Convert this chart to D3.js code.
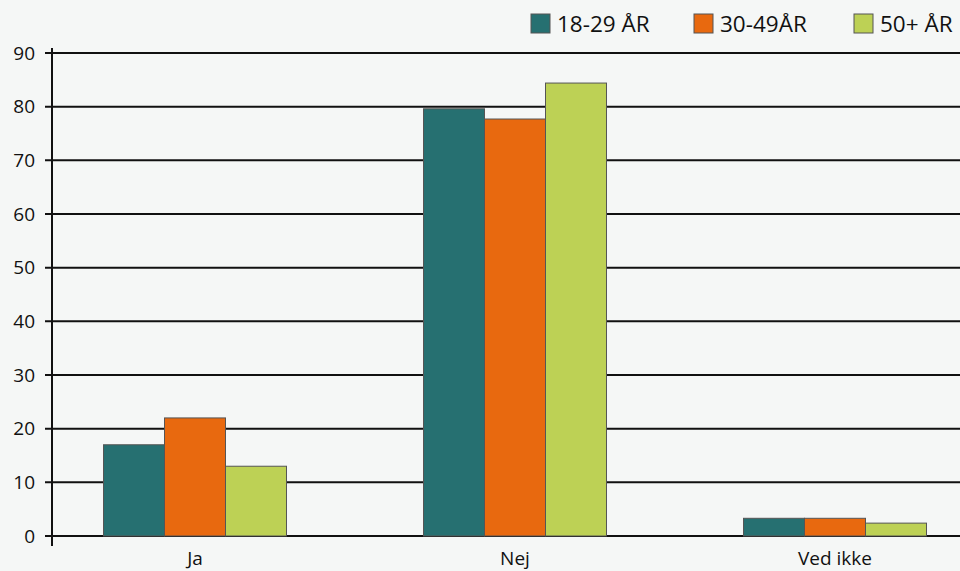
<!DOCTYPE html>
<html>
<head>
  <meta charset="utf-8">
  <title>Aldersgrupper</title>
  <style>
    body { margin: 0; background: #f5f7f6; }
    svg { display: block; font-family: "Open Sans", "Noto Sans", sans-serif; }
  </style>
  <script src="https://cdn.jsdelivr.net/npm/d3@7"></script>
</head>
<body>
<div id="chart"></div>
<script>
var categories = ['Ja', 'Nej', 'Ved ikke'];
var series = ['18-29 ÅR', '30-49ÅR', '50+ ÅR'];
var colors = ['#267071', '#e8690f', '#bdd155'];
var values = [
  [17.0, 79.6, 3.3],   // 18-29
  [22.0, 77.7, 3.3],   // 30-49
  [13.0, 84.4, 2.4]    // 50+
];
var yTicks = [0, 10, 20, 30, 40, 50, 60, 70, 80, 90];

var width = 960, height = 571;
var axisX = 52;

var svg = d3.select('#chart').append('svg')
  .attr('width', width)
  .attr('height', height);

svg.append('rect').attr('width', width).attr('height', height).attr('fill', '#f5f7f6');

var y = d3.scaleLinear().domain([0, 90]).range([536, 53]);
var x = d3.scaleBand().domain(categories).range([35, 995]).padding(0);
var groupW = 183;
var x1 = d3.scaleBand().domain(series).range([0, groupW]).padding(0);

// grid lines
svg.append('g').selectAll('line')
  .data(yTicks)
  .enter().append('line')
  .attr('x1', 45).attr('x2', width)
  .attr('y1', function (d) { return y(d); })
  .attr('y2', function (d) { return y(d); })
  .attr('stroke', '#111').attr('stroke-width', 2);

// y axis labels
svg.append('g').selectAll('text')
  .data(yTicks)
  .enter().append('text')
  .attr('x', 35)
  .attr('y', function (d) { return y(d); })
  .attr('dy', '0.35em')
  .attr('text-anchor', 'end')
  .attr('font-size', 19)
  .attr('fill', '#111')
  .text(function (d) { return d; });

// bars
var groups = svg.append('g').selectAll('g')
  .data(categories)
  .enter().append('g')
  .attr('transform', function (d) {
    return 'translate(' + (x(d) + (x.bandwidth() - groupW) / 2) + ',0)';
  });

groups.selectAll('rect')
  .data(function (d, i) {
    return series.map(function (s, j) { return { s: s, v: values[j][i], c: colors[j] }; });
  })
  .enter().append('rect')
  .attr('x', function (d) { return x1(d.s); })
  .attr('width', x1.bandwidth())
  .attr('y', function (d) { return y(d.v); })
  .attr('height', function (d) { return y(0) - y(d.v); })
  .attr('fill', function (d) { return d.c; })
  .attr('stroke', '#555')
  .attr('stroke-width', 1);

// y axis line
svg.append('line')
  .attr('x1', axisX).attr('x2', axisX)
  .attr('y1', 48).attr('y2', 546)
  .attr('stroke', '#111').attr('stroke-width', 2);

// category labels
svg.append('g').selectAll('text')
  .data(categories)
  .enter().append('text')
  .attr('x', function (d) { return x(d) + x.bandwidth() / 2; })
  .attr('y', 565)
  .attr('text-anchor', 'middle')
  .attr('font-size', 19)
  .attr('fill', '#111')
  .text(function (d) { return d; });

// legend
var legendX = [531, 694, 854];
var legend = svg.append('g').selectAll('g')
  .data(series)
  .enter().append('g')
  .attr('transform', function (d, i) { return 'translate(' + legendX[i] + ',14)'; });

legend.append('rect')
  .attr('width', 19).attr('height', 19)
  .attr('fill', function (d, i) { return colors[i]; })
  .attr('stroke', '#555').attr('stroke-width', 1);

legend.append('text')
  .attr('x', 26).attr('y', 18)
  .attr('font-size', 22.5)
  .attr('fill', '#111')
  .text(function (d) { return d; });
</script>
</body>
</html>
